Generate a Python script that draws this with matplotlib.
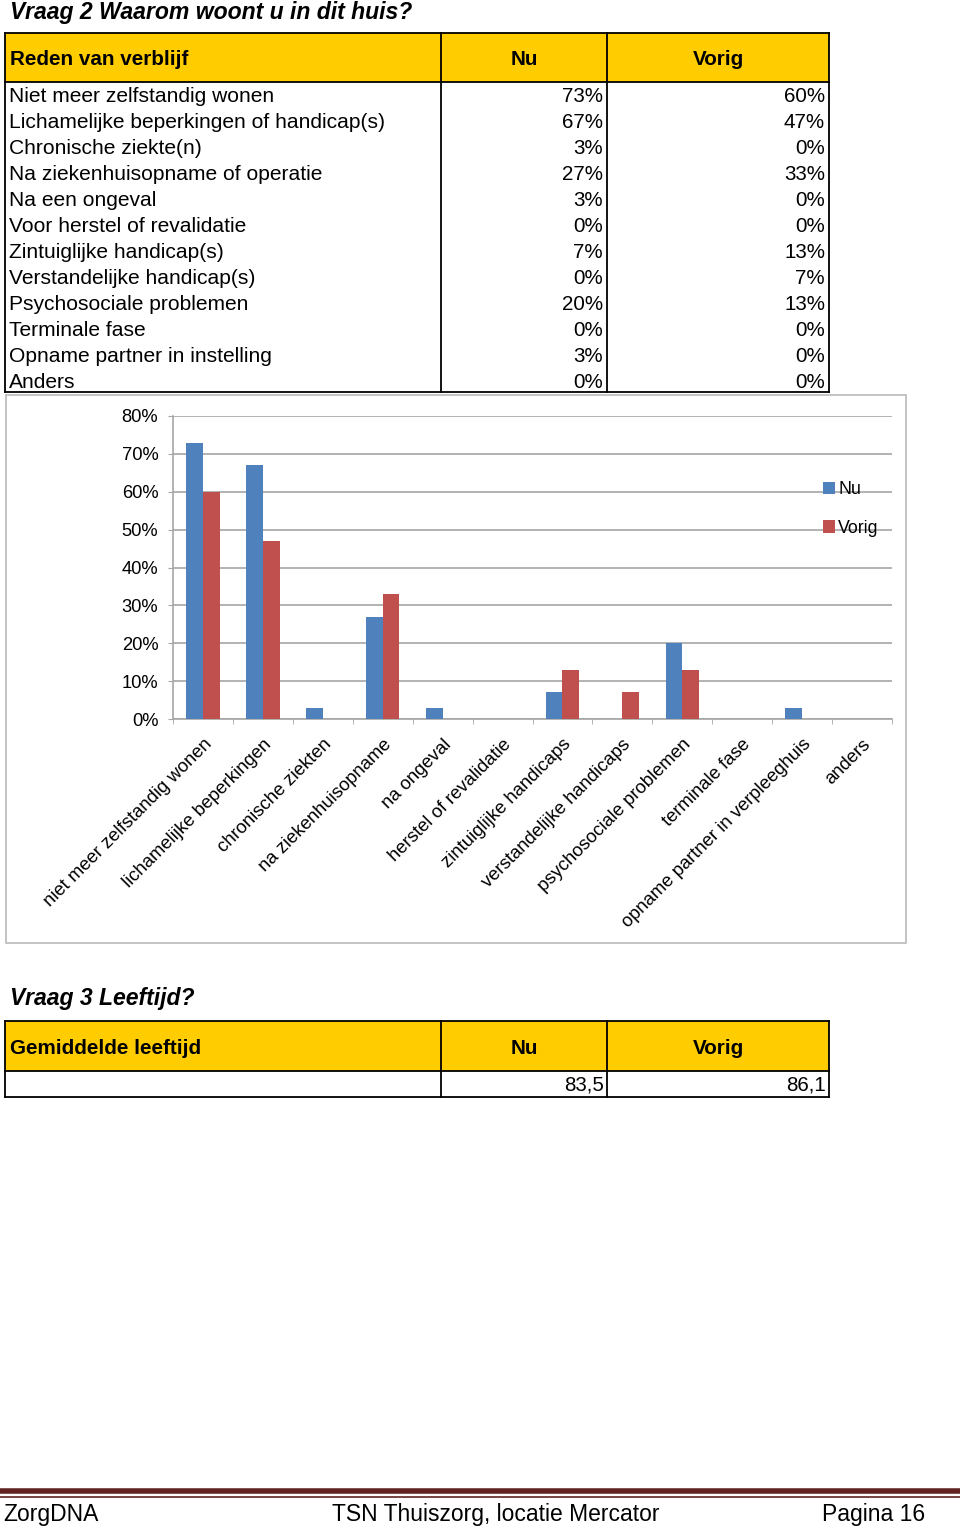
import matplotlib

matplotlib.use("Agg")
import matplotlib.pyplot as plt
from matplotlib.patches import Rectangle
from matplotlib.lines import Line2D

plt.rcParams["font.family"] = ["Liberation Sans", "DejaVu Sans"]

# data
reasons = [
    "Niet meer zelfstandig wonen",
    "Lichamelijke beperkingen of handicap(s)",
    "Chronische ziekte(n)",
    "Na ziekenhuisopname of operatie",
    "Na een ongeval",
    "Voor herstel of revalidatie",
    "Zintuiglijke handicap(s)",
    "Verstandelijke handicap(s)",
    "Psychosociale problemen",
    "Terminale fase",
    "Opname partner in instelling",
    "Anders",
]
nu = [73, 67, 3, 27, 3, 0, 7, 0, 20, 0, 3, 0]
vorig = [60, 47, 0, 33, 0, 0, 13, 7, 13, 0, 0, 0]
chart_labels = [
    "niet meer zelfstandig wonen",
    "lichamelijke beperkingen",
    "chronische ziekten",
    "na ziekenhuisopname",
    "na ongeval",
    "herstel of revalidatie",
    "zintuiglijke handicaps",
    "verstandelijke handicaps",
    "psychosociale problemen",
    "terminale fase",
    "opname partner in verpleeghuis",
    "anders",
]
yticks = [0, 10, 20, 30, 40, 50, 60, 70, 80]
age_nu = "83,5"
age_vorig = "86,1"

YELLOW = "#ffcc00"
BLUE = "#4f81bd"
RED = "#c0504d"
W, H = 960, 1527
FS = 15.1

fig = plt.figure(figsize=(W / 100, H / 100), dpi=100)
page = fig.add_axes([0, 0, 1, 1])
page.set_xlim(0, W)
page.set_ylim(H, 0)
page.axis("off")

cols = [5, 441, 607, 829]


def table(top, head_h, body_h, head_label):
    page.add_patch(Rectangle((cols[0], top), cols[-1] - cols[0], head_h,
                             facecolor=YELLOW, edgecolor="none"))
    bottom = top + head_h + body_h
    for x in cols:
        page.plot([x, x], [top, bottom], color="black", lw=1.3)
    for y in (top, top + head_h, bottom):
        page.plot([cols[0], cols[-1]], [y, y], color="black", lw=1.3)
    hy = top + head_h / 2 + 2
    page.text(10, hy, head_label, fontsize=14.9, fontweight="bold", va="center")
    page.text((cols[1] + cols[2]) / 2, hy, "Nu", fontsize=14.9, fontweight="bold",
              va="center", ha="center")
    page.text((cols[2] + cols[3]) / 2, hy, "Vorig", fontsize=14.9, fontweight="bold",
              va="center", ha="center")


# Vraag 2
page.text(10, 12, "Vraag 2 Waarom woont u in dit huis?", fontsize=16.6,
          fontweight="bold", style="italic", va="center")
table(33, 49, 310, "Reden van verblijf")
for i, (r, a, b) in enumerate(zip(reasons, nu, vorig)):
    y = 97 + 26 * i
    page.text(9, y, r, fontsize=FS, va="center")
    page.text(cols[2] - 4, y, f"{a}%", fontsize=14.8, va="center", ha="right")
    page.text(cols[3] - 4, y, f"{b}%", fontsize=14.8, va="center", ha="right")

# chart frame
page.add_patch(Rectangle((6, 395), 900, 548, facecolor="white",
                         edgecolor="#bfbfbf", lw=1.3))

ax = fig.add_axes([173 / W, 1 - 719 / H, 719 / W, 303 / H])
x = list(range(len(nu)))
bw = 0.28
ax.bar([i - bw / 2 for i in x], nu, width=bw, color=BLUE, label="Nu", zorder=3)
ax.bar([i + bw / 2 for i in x], vorig, width=bw, color=RED, label="Vorig", zorder=3)
ax.set_xlim(-0.5, len(nu) - 0.5)
ax.set_ylim(0, 80)
ax.set_yticks(yticks)
ax.set_yticklabels([f"{v}%" for v in yticks], fontsize=13.2)
ax.yaxis.grid(True, color="#a6a6a6", lw=1.2, zorder=0)
ax.tick_params(axis="y", length=3.6, color="#a6a6a6", pad=7)
ax.set_xticks(x)
ax.set_xticklabels(chart_labels, rotation=45, ha="right", va="top",
                   rotation_mode="anchor", fontsize=13.3)
ax.tick_params(axis="x", which="major", length=0, pad=12)
ax.set_xticks([i - 0.5 for i in range(len(nu) + 1)], minor=True)
ax.tick_params(axis="x", which="minor", length=3.6, color="#a6a6a6")
for s in ("top", "right"):
    ax.spines[s].set_visible(False)
for s in ("left", "bottom"):
    ax.spines[s].set_color("#a6a6a6")
    ax.spines[s].set_linewidth(1.2)
ax.legend(loc="center left", bbox_to_anchor=(814 / W, 1 - 509 / H),
          bbox_transform=fig.transFigure, frameon=False, fontsize=12.8,
          handlelength=0.7, handleheight=0.7, handletextpad=0.15,
          labelspacing=1.2, borderpad=0)

# Vraag 3
page.text(10, 998, "Vraag 3 Leeftijd?", fontsize=16.6, fontweight="bold",
          style="italic", va="center")
table(1021, 50, 26, "Gemiddelde leeftijd")
page.text(cols[2] - 3, 1085, age_nu, fontsize=14.8, va="center", ha="right")
page.text(cols[3] - 3, 1085, age_vorig, fontsize=14.8, va="center", ha="right")

# footer
page.add_line(Line2D([0, W], [1491, 1491], color="#622423", lw=4))
page.add_line(Line2D([0, W], [1496.5, 1496.5], color="#622423", lw=1.2))
page.text(3, 1514, "ZorgDNA", fontsize=16.5, va="center")
page.text(332, 1514, "TSN Thuiszorg, locatie Mercator", fontsize=16.5,
          va="center")
page.text(822, 1514, "Pagina 16", fontsize=16.5, va="center")

fig.savefig("out.png", dpi=100)
